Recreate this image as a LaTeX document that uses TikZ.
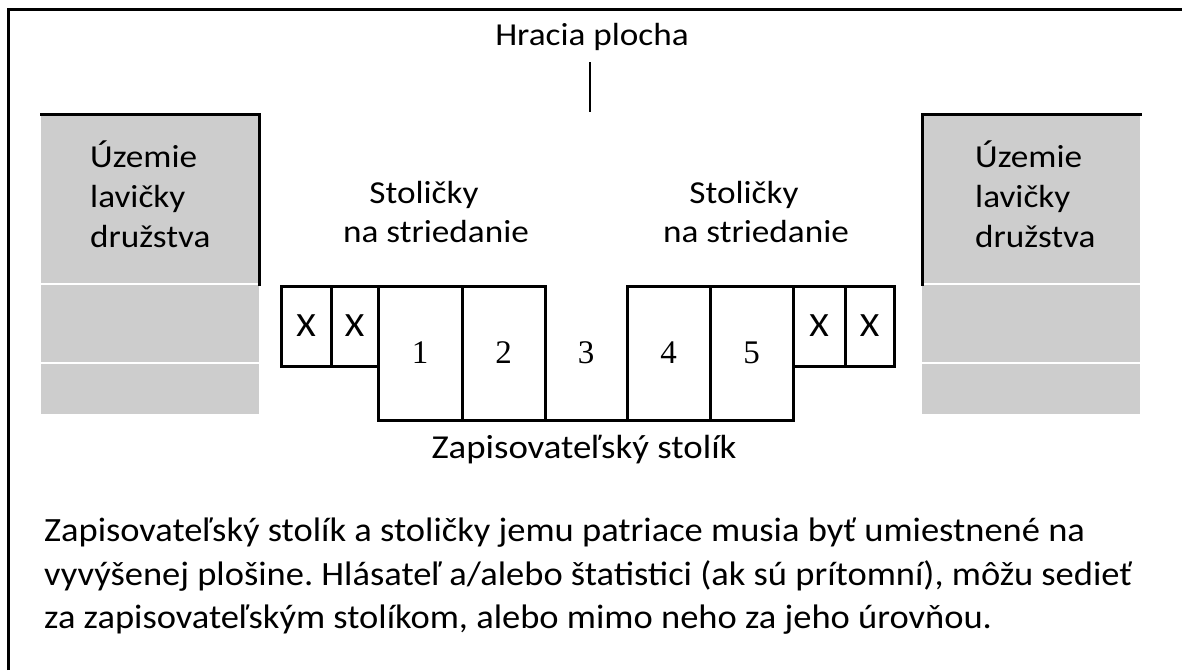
\documentclass[tikz,border=0pt]{standalone}
\usepackage{fontspec}
\setmainfont{Carlito}[FakeStretch=1.1]
\newfontfamily\notefont{Carlito}[FakeStretch=1.1]
\newfontfamily\digitfont{Liberation Serif}
\definecolor{benchgray}{HTML}{CDCDCD}
\newsavebox\notebox
\newcommand\notesize{\notefont\fontsize{34}{40}\selectfont\frenchspacing}
\tikzset{
  frameline/.style={line width=3pt},
  bench/.style={fill=benchgray, draw=none, minimum width=218pt, minimum height=300pt, inner sep=0pt, outer sep=0pt},
  edge/.style={line width=3pt, line cap=rect},
  gap/.style={draw=white, line width=2pt},
  seat/.style={draw, line width=3pt, inner sep=0pt, outer sep=0pt, font=\fontsize{34}{38}\selectfont},
  numseat/.style={seat, font=\digitfont\fontsize{33}{38}\selectfont},
  label/.style={inner sep=0pt, font=\fontsize{32}{40}\selectfont},
  note/.style={inner sep=0pt, font=\notesize},
}
\begin{document}
% horizontal scale of the note so its longest line spans 1088pt
\sbox\notebox{\notesize vyvýšenej plošine. Hlásateľ a/alebo štatistici (ak sú prítomní), môžu sedieť}%
\pgfmathsetmacro\notescale{1088/\the\wd\notebox}%
\begin{tikzpicture}[x=1pt, y=-1pt]
\useasboundingbox (0,0) rectangle (1182,670);
% outer frame (top and left edges only)
\coordinate (fbl) at (8,670);
\coordinate (ftl) at (8,9);
\coordinate (ftr) at (1182,9);
\draw[frameline] (fbl) -- (ftl) -- (ftr);

% playing court label with its marker
\node[label, anchor=base] (court) at (592,45) {Hracia plocha};
\coordinate (tickTop) at (590,62);
\coordinate (tickBot) at (590,112);
\draw[line width=2.5pt] (tickTop) -- (tickBot);

% team bench areas
\node[bench] (benchL) at (150,264) {};
\node[bench] (benchR) at (1031,264) {};
\foreach \b in {benchL, benchR} {
  \draw[gap] ([yshift=-170pt]\b.north west) -- ([yshift=-170pt]\b.north east);
  \draw[gap] ([yshift=-249pt]\b.north west) -- ([yshift=-249pt]\b.north east);
}
\draw[edge] (benchL.north west) -- (benchL.north east) -- ([yshift=-170pt]benchL.north east);
\draw[edge] ([yshift=-170pt]benchR.north west) -- (benchR.north west) -- (benchR.north east);
\node[label, anchor=base west] (benchTxtL) at (90,167) {Územie};
\node[label, anchor=base west] (benchTxtL2) at (90,207) {lavičky};
\node[label, anchor=base west] (benchTxtL3) at (90,247) {družstva};
\node[label, anchor=base west] (benchTxtR) at (975,167) {Územie};
\node[label, anchor=base west] (benchTxtR2) at (975,207) {lavičky};
\node[label, anchor=base west] (benchTxtR3) at (975,247) {družstva};

% substitution chairs captions
\node[label, anchor=base] (subsL) at (424,203) {Stoličky};
\node[label, anchor=base] (subsL2) at (436,242) {na striedanie};
\node[label, anchor=base] (subsR) at (744,203) {Stoličky};
\node[label, anchor=base] (subsR2) at (756,242) {na striedanie};

% scorer's table and chairs
\node[seat, minimum width=50pt, minimum height=80pt] (xa) at (306,326) {X};
\node[seat, minimum width=47pt, minimum height=80pt] (xb) at (354.5,326) {X};
\node[numseat, minimum width=84pt, minimum height=134pt] (s1) at (420,353) {1};
\node[numseat, minimum width=83pt, minimum height=134pt] (s2) at (503.5,353) {2};
\node[label, font=\digitfont\fontsize{33}{38}\selectfont] (s3) at (586,353) {3};
\node[numseat, minimum width=83pt, minimum height=134pt] (s4) at (668.5,353) {4};
\node[numseat, minimum width=83pt, minimum height=134pt] (s5) at (751.5,353) {5};
\node[seat, minimum width=52pt, minimum height=80pt] (xc) at (819,326) {X};
\node[seat, minimum width=49pt, minimum height=80pt] (xd) at (869.5,326) {X};
\draw[line width=3pt] (s2.south east) -- (s4.south west);
\node[inner sep=0pt, font=\notefont\fontsize{33.5}{40}\selectfont, anchor=base] (table) at (584,458) {Zapisovateľský stolík};

% explanatory note
\node[note, anchor=base west] (note1) at (44,541) {\scalebox{\notescale}[1]{Zapisovateľský stolík a stoličky jemu patriace musia byť umiestnené na}};
\node[note, anchor=base west] (note2) at (44,585) {\scalebox{\notescale}[1]{vyvýšenej plošine. Hlásateľ a/alebo štatistici (ak sú prítomní), môžu sedieť}};
\node[note, anchor=base west] (note3) at (44,628) {\scalebox{\notescale}[1]{za zapisovateľským stolíkom, alebo mimo neho za jeho úrovňou.}};
\end{tikzpicture}
\end{document}
